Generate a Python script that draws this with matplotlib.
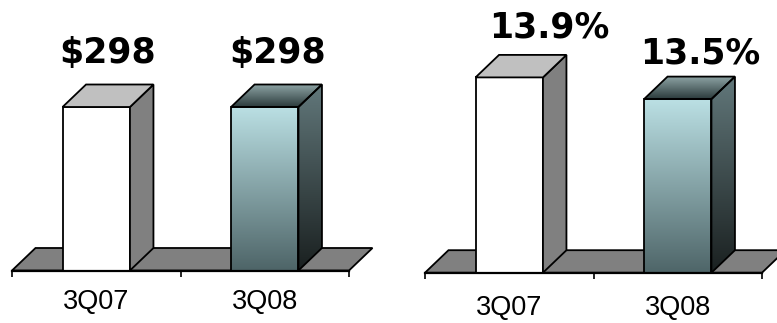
import numpy as np
import matplotlib
matplotlib.use("Agg")
import matplotlib.pyplot as plt
from matplotlib.patches import Polygon
from matplotlib.colors import to_rgb

# ---------------- data ----------------
categories = ['3Q07', '3Q08']
revenue = [298, 298]
revenue_labels = ['$298', '$298']
margin = [13.9, 13.5]
margin_labels = ['13.9%', '13.5%']

# ---------------- style ----------------
DPI = 100
DX, DY = 23.5, 22.5          # 3-D depth offset in pixels
BAR_W = 0.4
FLOOR = '#808080'
PLAIN = dict(front='white', top='#c0c0c0', side='#808080')
GRAD = dict(front=('#4e6568', '#bbe0e4'),   # bottom -> top
            side=('#1a2020', '#62787b'),
            top=('#2b3b3c', '#8fa5a6'))


def vgrad(c0, c1, n=256):
    a = np.array(to_rgb(c0)); b = np.array(to_rgb(c1))
    t = np.linspace(0, 1, n)[:, None]
    return (a + (b - a) * t)[:, None, :]


def grad_fill(ax, patch, c0, c1, z):
    if isinstance(patch, Polygon):
        verts = np.asarray(patch.get_xy())
    else:
        x, y = patch.get_xy(); w = patch.get_width(); h = patch.get_height()
        verts = np.array([[x, y], [x + w, y + h]])
    x0, y0 = verts.min(axis=0); x1, y1 = verts.max(axis=0)
    im = ax.imshow(vgrad(c0, c1), extent=(x0, x1, y0, y1), origin='lower',
                   aspect='auto', interpolation='bilinear', zorder=z)
    im.set_clip_path(patch)
    return im


def panel(ax, values, labels, ylim, lab_off, cat_pad):
    ax.set_xlim(-0.5, 1.5)
    ax.set_ylim(*ylim)
    p0 = ax.transData.transform((0, 0)); p1 = ax.transData.transform((1, 1))
    ddx = DX / (p1[0] - p0[0]); ddy = DY / (p1[1] - p0[1])
    yb = ylim[0]
    # floor
    ax.add_patch(Polygon([(-0.5, yb), (1.5, yb), (1.5 + ddx, yb + ddy), (-0.5 + ddx, yb + ddy)],
                         closed=True, fc=FLOOR, ec='black', lw=1.3, clip_on=False, zorder=1))
    x = np.arange(len(values))
    styles = [PLAIN, GRAD]
    bars = ax.bar(x, np.asarray(values) - yb, bottom=yb, width=BAR_W, zorder=4, lw=1.3, ec='black')
    for i, (b, v) in enumerate(zip(bars, values)):
        st = styles[i]
        xa, xb = b.get_x(), b.get_x() + b.get_width()
        side = Polygon([(xb, yb), (xb + ddx, yb + ddy), (xb + ddx, v + ddy), (xb, v)],
                       closed=True, ec='black', lw=1.3, zorder=4, clip_on=False)
        top = Polygon([(xa, v), (xb, v), (xb + ddx, v + ddy), (xa + ddx, v + ddy)],
                      closed=True, ec='black', lw=1.3, zorder=4, clip_on=False)
        ax.add_patch(side); ax.add_patch(top)
        if st is PLAIN:
            b.set_facecolor(st['front']); side.set_facecolor(st['side']); top.set_facecolor(st['top'])
        else:
            for patch, key in ((b, 'front'), (side, 'side'), (top, 'top')):
                patch.set_facecolor('none')
                grad_fill(ax, patch, *st[key], z=3)
        ox, oy = lab_off[i]
        ax.annotate(labels[i], xy=((xa + xb) / 2, v + ddy), xytext=(ox, oy),
                    textcoords='offset pixels', ha='center', va='baseline',
                    fontsize=25, fontweight='bold', family='DejaVu Sans', color='black',
                    annotation_clip=False)
    ax.set_xlim(-0.5, 1.5)
    ax.set_ylim(*ylim)
    for s in ('top', 'left', 'right'):
        ax.spines[s].set_visible(False)
    ax.spines['bottom'].set_linewidth(1.6)
    ax.spines['bottom'].set_zorder(6)
    ax.set_yticks([])
    ax.set_xticks(x, labels=categories)
    ax.set_xticks([-0.5, 0.5, 1.5], minor=True)
    ax.tick_params(axis='x', which='major', length=0, pad=cat_pad, labelsize=19.5)
    ax.tick_params(axis='x', which='minor', length=4.5, width=1.2, direction='out')
    for t in ax.get_xticklabels():
        t.set_family('Liberation Sans')
    ax.set_facecolor('none')


W, H = 777, 323
fig = plt.figure(figsize=(W / DPI, H / DPI), dpi=DPI)

# left panel: baseline at y=270.5 px, slots from x=12 to 349 px
base_l = 270.5
axl = fig.add_axes([12 / W, (H - base_l) / H, 337 / W, base_l / H])
ymax_l = 298 * base_l / 163.5
panel(axl, revenue, revenue_labels, (0, ymax_l), [(11.5, 22), (13, 22)], 13.0)

# right panel: baseline at y=272.7 px, slots from x=425 to 762 px
base_r = 272.7
axr = fig.add_axes([425 / W, (H - base_r) / H, 337 / W, base_r / H])
k = 54.25; v0 = 10.3
panel(axr, margin, margin_labels, (v0, v0 + base_r / k), [(40, 17), (23, 13)], 16.0)

fig.savefig('out.png', dpi=DPI)
